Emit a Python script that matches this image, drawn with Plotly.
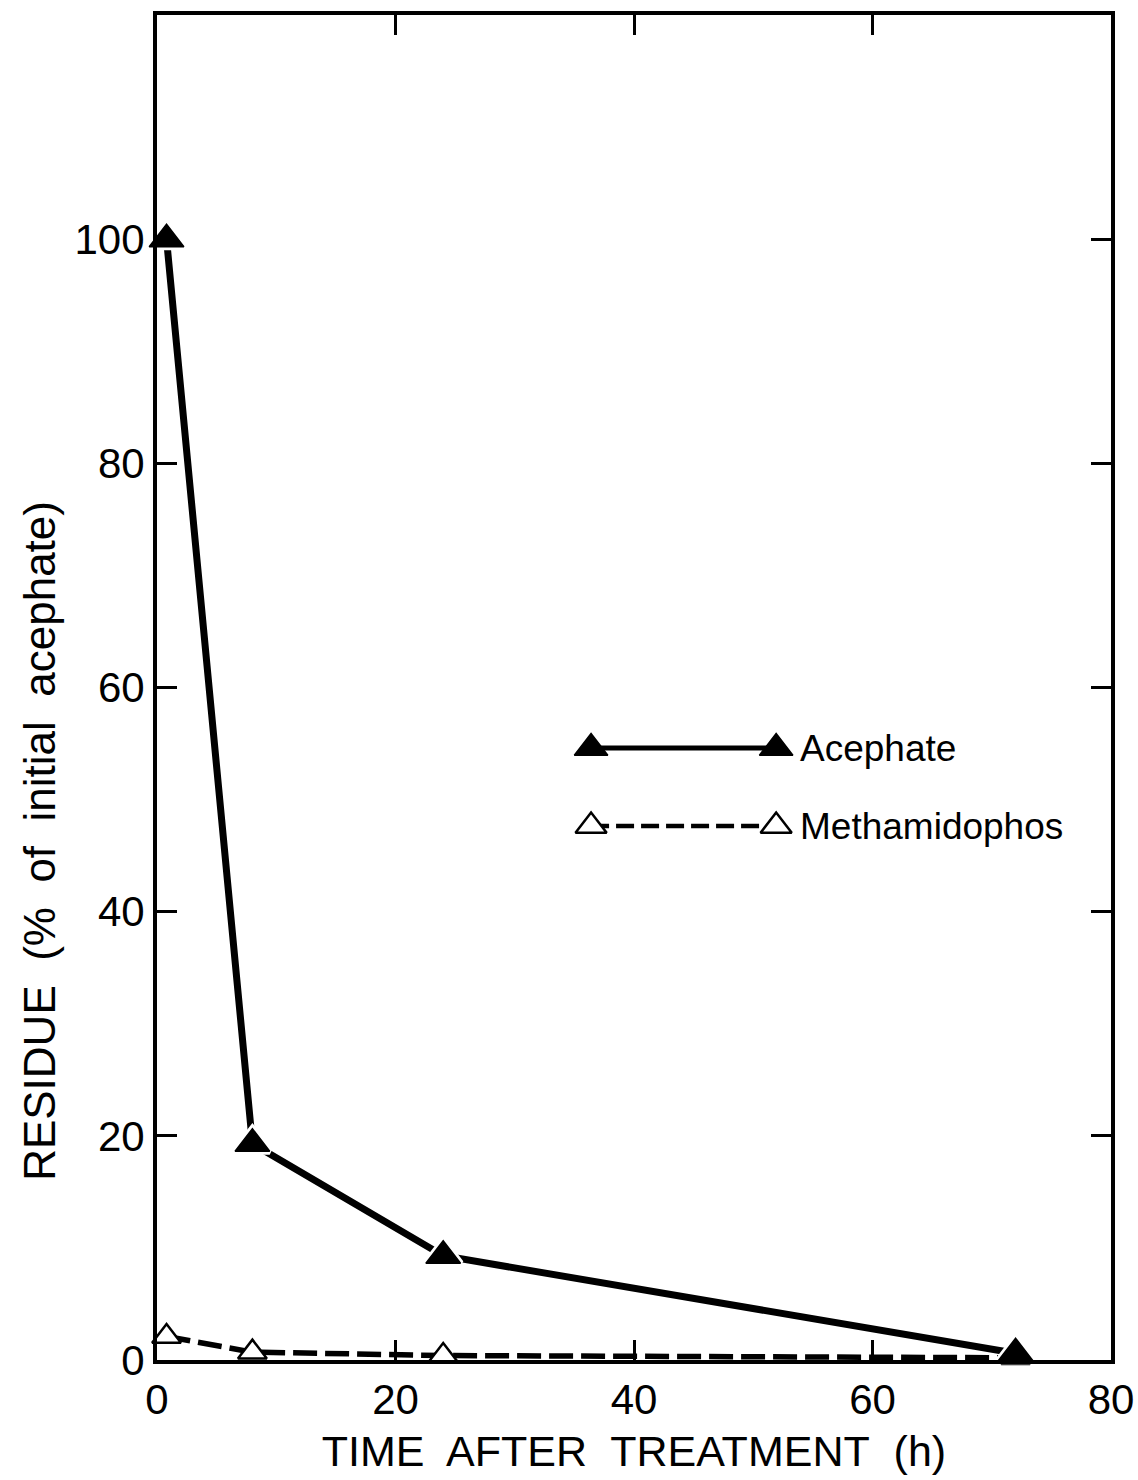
import plotly.graph_objects as go

# ---- data ----
time_acephate = [0.8, 8, 24, 72]
acephate = [100, 19.3, 9.3, 0.6]
time_metha = [0.8, 8, 24, 72]
methamidophos = [2.1, 0.7, 0.4, 0.2]

x_ticks = [0, 20, 40, 60, 80]
y_ticks = [0, 20, 40, 60, 80, 100]

series_names = ["Acephate", "Methamidophos"]

FONT = "Liberation Sans, Arial, Helvetica, sans-serif"

fig = go.Figure()

# Methamidophos: dashed line, then open triangles (white fill hides the line)
fig.add_trace(go.Scatter(
    x=time_metha, y=methamidophos, mode="lines",
    line=dict(color="black", width=5.5, dash="24px,8px"),
    showlegend=False, cliponaxis=False,
))
fig.add_trace(go.Scatter(
    x=time_metha, y=methamidophos, mode="markers",
    marker=dict(symbol="triangle-up", size=25, color="white",
                line=dict(color="black", width=2.5)),
    showlegend=False, cliponaxis=False,
))
# Acephate: solid line, white halo, filled triangles
fig.add_trace(go.Scatter(
    x=time_acephate, y=acephate, mode="lines",
    line=dict(color="black", width=7),
    showlegend=False, cliponaxis=False,
))
fig.add_trace(go.Scatter(
    x=time_acephate, y=acephate, mode="markers",
    marker=dict(symbol="triangle-up", size=30, color="white",
                line=dict(color="white", width=7)),
    showlegend=False, cliponaxis=False,
))
fig.add_trace(go.Scatter(
    x=time_acephate, y=acephate, mode="markers",
    marker=dict(symbol="triangle-up", size=30, color="black",
                line=dict(color="black", width=1.5)),
    showlegend=False, cliponaxis=False,
))

# ---- custom legend (overlay axes spanning the plot area 0..1) ----
LEG_X = [0.455, 0.649]
LEG_Y = [0.455, 0.397]
LEG_TEXT_X = 0.672

fig.add_trace(go.Scatter(
    x=LEG_X, y=[LEG_Y[0]] * 2, mode="lines", xaxis="x2", yaxis="y2",
    line=dict(color="black", width=5), showlegend=False,
))
fig.add_trace(go.Scatter(
    x=LEG_X, y=[LEG_Y[0]] * 2, mode="markers", xaxis="x2", yaxis="y2",
    marker=dict(symbol="triangle-up", size=29, color="black",
                line=dict(color="black", width=1.5)),
    showlegend=False,
))
fig.add_trace(go.Scatter(
    x=LEG_X, y=[LEG_Y[1]] * 2, mode="lines", xaxis="x2", yaxis="y2",
    line=dict(color="black", width=4.5, dash="18px,7px"), showlegend=False,
))
fig.add_trace(go.Scatter(
    x=LEG_X, y=[LEG_Y[1]] * 2, mode="markers", xaxis="x2", yaxis="y2",
    marker=dict(symbol="triangle-up", size=27, color="white",
                line=dict(color="black", width=2.5)),
    showlegend=False,
))
for name, yy in zip(series_names, LEG_Y):
    fig.add_annotation(text=name, x=LEG_TEXT_X, y=yy, xref="paper", yref="paper",
                       xanchor="left", yanchor="middle", showarrow=False,
                       font=dict(family=FONT, size=37, color="black"))

# y-axis title as annotation (offset downward as in reference)
fig.add_annotation(text="RESIDUE\u00a0 (%\u00a0 of\u00a0 initial\u00a0 acephate)",
                   x=-0.1226, y=0.386, xref="paper", yref="paper",
                   textangle=-90, xanchor="center", yanchor="middle",
                   showarrow=False, font=dict(family=FONT, size=44, color="black"))

axis_common = dict(
    showline=True, linecolor="black", linewidth=4, mirror="ticks",
    ticks="inside", ticklen=20, tickwidth=3, tickcolor="black",
    showgrid=False, zeroline=False, automargin=False,
    tickfont=dict(family=FONT, size=42, color="black"),
)

fig.update_layout(
    width=1138, height=1480,
    margin=dict(l=157, r=27, t=15, b=120),
    paper_bgcolor="white", plot_bgcolor="white",
    xaxis=dict(range=[0, 80], tickvals=x_ticks, ticktext=[str(v) for v in x_ticks],
               title=dict(text="TIME\u00a0 AFTER\u00a0 TREATMENT\u00a0 (h)",
                          font=dict(family=FONT, size=43, color="black"), standoff=14),
               **axis_common),
    yaxis=dict(range=[0, 120], tickvals=y_ticks, ticktext=[str(v) for v in y_ticks],
               **axis_common),
    xaxis2=dict(range=[0, 1], overlaying="x", visible=False, fixedrange=True),
    yaxis2=dict(range=[0, 1], overlaying="y", visible=False, fixedrange=True),
    showlegend=False,
)

fig.write_html(
    "out.html",
    config={"displayModeBar": False},
    post_script="document.body.style.margin='0';document.body.style.overflow='hidden';",
)
